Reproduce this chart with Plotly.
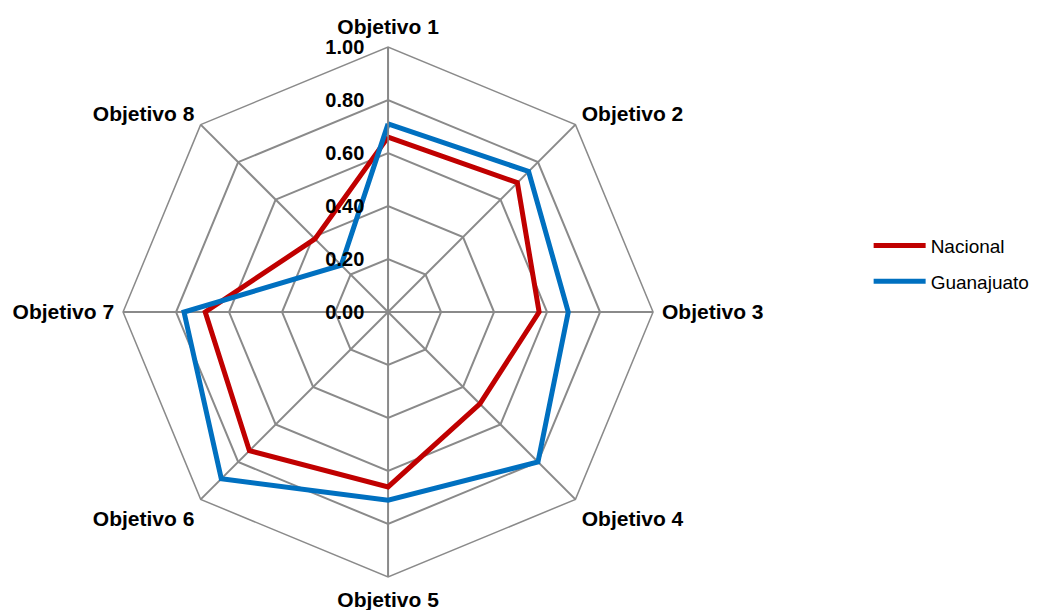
import plotly.graph_objects as go

categories = ["Objetivo 1", "Objetivo 2", "Objetivo 3", "Objetivo 4",
              "Objetivo 5", "Objetivo 6", "Objetivo 7", "Objetivo 8"]
nacional = [0.66, 0.69, 0.57, 0.49, 0.66, 0.74, 0.69, 0.39]
guanajuato = [0.71, 0.75, 0.68, 0.80, 0.71, 0.89, 0.77, 0.25]
radial_ticks = [0, 0.2, 0.4, 0.6, 0.8, 1.0]

GRID = "#8a8a8a"
FONT = "Liberation Sans, Arial, sans-serif"

fig = go.Figure()
for i, (name, vals, color) in enumerate([("Nacional", nacional, "#C00000"),
                                         ("Guanajuato", guanajuato, "#0070C0")]):
    fig.add_trace(go.Scatterpolar(
        r=vals + vals[:1], theta=categories + categories[:1],
        mode="lines", name=name, legendgroup=f"g{i}",
        line=dict(color=color, width=5),
    ))

fig.update_layout(
    width=1047, height=610,
    margin=dict(l=0, r=0, t=0, b=0),
    paper_bgcolor="white",
    font=dict(family=FONT, size=20, color="black"),
    polar=dict(
        domain=dict(x=[0.1099, 0.6161], y=[0.0671, 0.9361]),
        bgcolor="white",
        gridshape="linear",
        angularaxis=dict(
            rotation=90, direction="clockwise",
            tickfont=dict(family=FONT, size=21, weight="bold"),
            linecolor=GRID, linewidth=1.5,
            gridcolor=GRID, gridwidth=1.5,
            ticks="outside", ticklen=4, tickcolor="rgba(0,0,0,0)",
            showline=True,
        ),
        radialaxis=dict(
            range=[0, 1], tickvals=radial_ticks, tickformat=".2f",
            angle=90, tickangle=90, side="counterclockwise",
            tickfont=dict(family=FONT, size=20, weight="bold"),
            linecolor=GRID, linewidth=1.5, showline=True,
            gridcolor=GRID, gridwidth=1.5,
            ticks="outside", ticklen=16, tickcolor="rgba(0,0,0,0)",
        ),
    ),
    legend=dict(
        x=0.822, y=0.581, xanchor="left", yanchor="middle",
        font=dict(family=FONT, size=19),
        bgcolor="rgba(0,0,0,0)", tracegroupgap=8, itemwidth=52,
    ),
)

fig.write_html("out.html")
